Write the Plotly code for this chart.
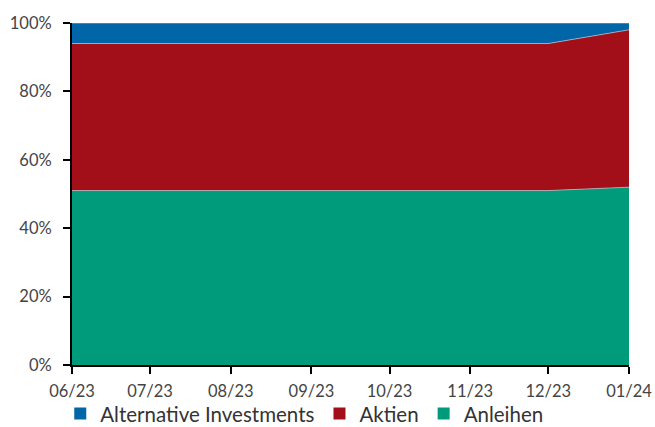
import plotly.graph_objects as go

dates = ["2023-06-01", "2023-07-01", "2023-08-01", "2023-09-01", "2023-10-01",
         "2023-11-01", "2023-12-01", "2024-01-01"]
anleihen = [51, 51, 51, 51, 51, 51, 51, 52]
aktien = [43, 43, 43, 43, 43, 43, 43, 46]
alternative = [6, 6, 6, 6, 6, 6, 6, 2]
y_ticks = [0, 20, 40, 60, 80, 100]
y_labels = [f"{v}%" for v in y_ticks]

colors = {"Anleihen": "#009B7A", "Aktien": "#A20F19", "Alternative Investments": "#0066A8"}

fig = go.Figure()
for name, vals in [("Anleihen", anleihen), ("Aktien", aktien), ("Alternative Investments", alternative)]:
    fig.add_trace(go.Scatter(
        x=dates, y=vals, name=name, mode="lines", stackgroup="one",
        line=dict(width=0.8, color="rgba(190,190,200,0.9)"),
        fillcolor=colors[name], showlegend=False,
    ))
# legend entries with square symbols
for name in ["Anleihen", "Aktien", "Alternative Investments"]:
    fig.add_trace(go.Scatter(
        x=[None], y=[None], name=name, mode="markers",
        marker=dict(symbol="square", size=12, color=colors[name]),
    ))

font = "Lato"
fig.update_layout(
    width=655, height=427,
    margin=dict(l=72, r=26, t=23, b=62),
    paper_bgcolor="white", plot_bgcolor="white",
    font=dict(family=font, size=16.5, color="#444"),
    showlegend=True,
    legend=dict(orientation="h", xref="container", yref="container",
                x=0.092, xanchor="left", y=0.031, yanchor="middle",
                traceorder="reversed", font=dict(size=20.5, color="#333"),
                itemwidth=30, tracegroupgap=0, bgcolor="rgba(0,0,0,0)"),
    xaxis=dict(type="date", range=["2023-06-01", "2024-01-01"],
               tickvals=dates, tickformat="%m/%y",
               showgrid=False, showline=True, linecolor="black", linewidth=2,
               ticks="outside", tickcolor="black", ticklen=7, tickwidth=1.5,
               zeroline=False, automargin=False, ticklabelstandoff=3),
    yaxis=dict(range=[0, 100], tickvals=y_ticks, ticktext=y_labels,
               showgrid=False, showline=True, linecolor="black", linewidth=2,
               ticks="outside", tickcolor="black", ticklen=7, tickwidth=1.5,
               zeroline=False, automargin=False, ticklabelstandoff=8),
)

fig.write_html("out.html", config={"displayModeBar": False},
               post_script="document.body.style.margin='0';document.body.style.overflow='hidden';")
